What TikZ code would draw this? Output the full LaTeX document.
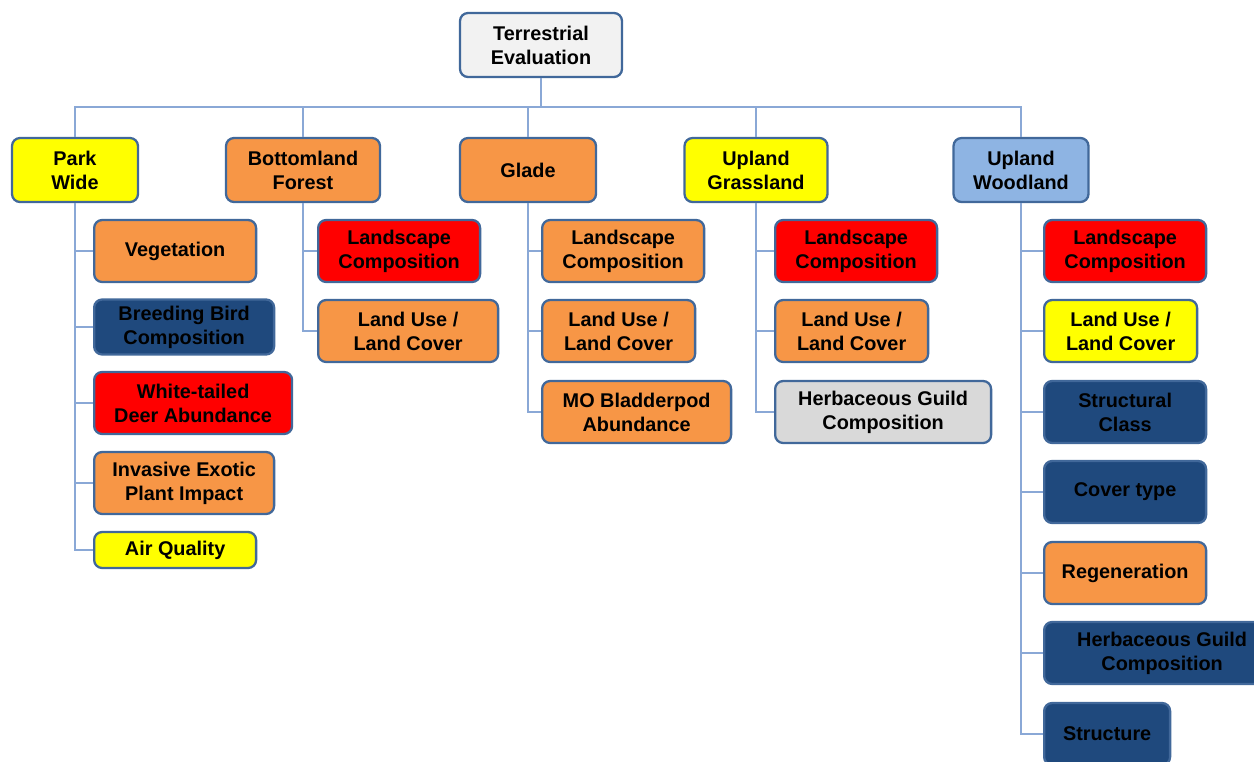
\documentclass[tikz,border=0pt]{standalone}
\usepackage{fontspec}
\setmainfont{Liberation Sans}
\usepackage{xcolor}
\usepackage{tikz}

\definecolor{boxline}{HTML}{41689A}
\definecolor{linkblue}{HTML}{8AA8D6}
\definecolor{orangebox}{HTML}{F79646}
\definecolor{redbox}{HTML}{FF0000}
\definecolor{yellowbox}{HTML}{FFFF00}
\definecolor{navybox}{HTML}{1F497D}
\definecolor{skybox}{HTML}{8EB4E3}
\definecolor{greybox}{HTML}{D9D9D9}
\definecolor{topbox}{HTML}{F2F2F2}

\begin{document}
\begin{tikzpicture}[x=0.02cm,y=-0.02cm,
    box/.style={draw=boxline,line width=1.3pt,rounded corners=0.16cm,align=center,inner sep=0pt,
      font=\fontsize{11.3}{13.6}\selectfont\bfseries,minimum height=1.24cm},
    head/.style={box,minimum height=1.28cm},
    sub/.style={box,anchor=west},
    branch/.style={draw=linkblue,line width=0.9pt}]
      \useasboundingbox (0,0) rectangle (1254,761);

      \node[head,fill=topbox,minimum width=3.24cm](terr) at (541,45){Terrestrial\\Evaluation};

      \node[head,fill=yellowbox,minimum width=2.52cm](park) at (75,170){Park\\Wide};
      \node[head,fill=orangebox,minimum width=3.08cm](bottom) at (303,170){Bottomland\\Forest};
      \node[head,fill=orangebox,minimum width=2.72cm](glade) at (528,170){Glade};
      \node[head,fill=yellowbox,minimum width=2.86cm](grass) at (756,170){Upland\\Grassland};
      \node[head,fill=skybox,minimum width=2.7cm](wood) at (1021,170){Upland\\Woodland};

      \node[sub,fill=orangebox,minimum width=3.24cm](veg) at (93,251){Vegetation};
      \node[sub,fill=navybox,minimum width=3.6cm,minimum height=1.1cm](bird) at (93,327){Breeding Bird\\Composition};
      \node[sub,fill=redbox,minimum width=3.96cm](deer) at (93,403){White-tailed\\Deer Abundance};
      \node[sub,fill=orangebox,minimum width=3.6cm](exotic) at (93,483){Invasive Exotic\\Plant Impact};
      \node[sub,fill=yellowbox,minimum width=3.24cm,minimum height=0.72cm](air) at (93,550){Air Quality};

      \node[sub,fill=redbox,minimum width=3.24cm](bfland) at (317,251){Landscape\\Composition};
      \node[sub,fill=orangebox,minimum width=3.6cm](bfuse) at (317,331){Land Use /\\Land Cover};

      \node[sub,fill=orangebox,minimum width=3.24cm](glland) at (541,251){Landscape\\Composition};
      \node[sub,fill=orangebox,minimum width=3.06cm](gluse) at (541,331){Land Use /\\Land Cover};
      \node[sub,fill=orangebox,minimum width=3.78cm](glpod) at (541,412){MO Bladderpod\\Abundance};

      \node[sub,fill=redbox,minimum width=3.24cm](grland) at (774,251){Landscape\\Composition};
      \node[sub,fill=orangebox,minimum width=3.06cm](gruse) at (774,331){Land Use /\\Land Cover};
      \node[sub,fill=greybox,minimum width=4.32cm](grherb) at (774,412){Herbaceous Guild\\Composition};

      \node[sub,fill=redbox,minimum width=3.24cm](wdland) at (1043,251){Landscape\\Composition};
      \node[sub,fill=yellowbox,minimum width=3.06cm](wduse) at (1043,331){Land Use /\\Land Cover};
      \node[sub,fill=navybox,minimum width=3.24cm](wdclass) at (1043,412){Structural\\Class};
      \node[sub,fill=navybox,minimum width=3.24cm](wdcover) at (1043,492){Cover type};
      \node[sub,fill=orangebox,minimum width=3.24cm](wdregen) at (1043,573){Regeneration};
      \node[sub,fill=navybox,minimum width=4.72cm](wdherb) at (1043,653){Herbaceous Guild\\Composition};
      \node[sub,fill=navybox,minimum width=2.52cm](wdstruct) at (1043,734){Structure};

      \draw[branch] (terr.south) -- ++(0,29) -| (park.north);
      \draw[branch] (terr.south) -- ++(0,29) -| (bottom.north);
      \draw[branch] (terr.south) -- ++(0,29) -| (glade.north);
      \draw[branch] (terr.south) -- ++(0,29) -| (grass.north);
      \draw[branch] (terr.south) -- ++(0,29) -| (wood.north);

      \draw[branch] (park.south) |- (veg.west);
      \draw[branch] (park.south) |- (bird.west);
      \draw[branch] (park.south) |- (deer.west);
      \draw[branch] (park.south) |- (exotic.west);
      \draw[branch] (park.south) |- (air.west);

      \draw[branch] (bottom.south) |- (bfland.west);
      \draw[branch] (bottom.south) |- (bfuse.west);

      \draw[branch] (glade.south) |- (glland.west);
      \draw[branch] (glade.south) |- (gluse.west);
      \draw[branch] (glade.south) |- (glpod.west);

      \draw[branch] (grass.south) |- (grland.west);
      \draw[branch] (grass.south) |- (gruse.west);
      \draw[branch] (grass.south) |- (grherb.west);

      \draw[branch] (wood.south) |- (wdland.west);
      \draw[branch] (wood.south) |- (wduse.west);
      \draw[branch] (wood.south) |- (wdclass.west);
      \draw[branch] (wood.south) |- (wdcover.west);
      \draw[branch] (wood.south) |- (wdregen.west);
      \draw[branch] (wood.south) |- (wdherb.west);
      \draw[branch] (wood.south) |- (wdstruct.west);
\end{tikzpicture}
\end{document}
